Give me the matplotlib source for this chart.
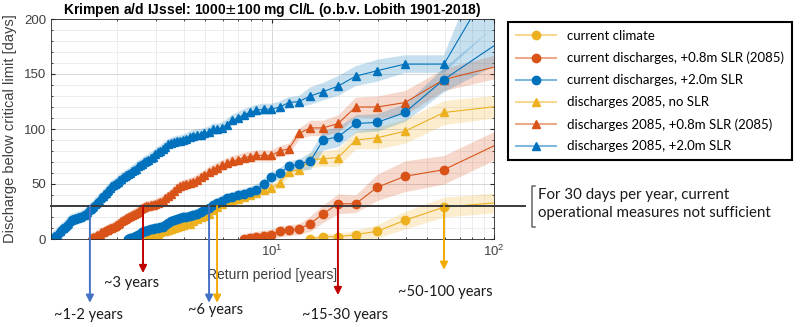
import numpy as np
import matplotlib.pyplot as plt
import matplotlib.transforms as mtransforms
from matplotlib.lines import Line2D
from matplotlib.ticker import MultipleLocator, LogLocator, NullFormatter
from matplotlib.colors import to_rgb

# Return periods: Weibull plotting position on 118 years (Lobith 1901-2018), rank 1 first
n_years = 118
return_period = (n_years + 1) / np.arange(1, n_years + 1)

# days below critical limit, ordered by rank (largest first)
cur_climate = [34, 29, 17, 7, 4, 2, 2, 0]
cur_08 = [92, 63, 57, 47, 32, 32, 23, 14, 9, 8, 7, 4, 3, 2, 1, 0]
cur_20 = [186, 145, 115, 106, 105, 93, 90, 71, 68, 66,
          60, 56, 50, 45, 43, 41, 40, 38, 37, 35,
          33, 31, 28, 26, 25, 23, 22, 21, 20, 20,
          19, 18, 17, 16, 15, 13, 11, 11, 10, 10,
          9, 9, 8, 7, 7, 6, 5, 4, 3, 2,
          1, 1, 0]
fut_00 = [122, 115, 98, 92, 90, 74, 73, 72, 63, 61,
          51, 46, 45, 42, 40, 38, 36, 35, 35, 32,
          29, 26, 23, 21, 20, 18, 16, 14, 14, 13,
          12, 11, 10, 9, 8, 7, 7, 6, 5, 4,
          3, 2, 1, 0]
fut_08 = [160, 145, 124, 120, 120, 105, 101, 101, 96, 82,
          80, 76, 76, 76, 75, 74, 72, 71, 69, 67,
          65, 63, 61, 58, 56, 54, 52, 51, 50, 49,
          48, 46, 44, 41, 39, 37, 35, 34, 33, 32,
          31, 31, 30, 30, 29, 28, 27, 25, 24, 23,
          22, 21, 20, 19, 18, 17, 16, 15, 14, 13,
          12, 11, 10, 10, 9, 8, 8, 7, 6, 6,
          5, 4, 4, 3, 2, 2, 1, 1, 0]
fut_20 = [262, 159, 159, 153, 148, 139, 134, 130, 125, 124,
          120, 118, 118, 117, 115, 113, 110, 108, 104, 101,
          100, 100, 97, 96, 95, 95, 94, 93, 91, 90,
          89, 89, 88, 87, 86, 84, 82, 80, 79, 77,
          75, 74, 72, 71, 70, 68, 67, 66, 64, 63,
          62, 60, 59, 58, 57, 56, 55, 54, 52, 51,
          50, 49, 48, 46, 45, 44, 42, 41, 39, 38,
          37, 35, 34, 33, 32, 30, 29, 28, 27, 26,
          25, 24, 23, 22, 22, 21, 20, 20, 20, 19,
          19, 19, 18, 18, 18, 17, 17, 16, 15, 14,
          13, 12, 11, 10, 10, 9, 8, 7, 7, 6,
          5, 4, 3, 3, 2, 1, 1, 0]

# half width of the 900-1100 mg Cl/L band (days)
band_cur_climate = [9, 9, 8, 6, 4, 3, 3, 2]
band_cur_08 = [13, 13, 14, 12, 8, 9, 8, 7] + [5] * 8
band_cur_20 = [20, 11, 8, 8, 8, 9, 9, 8] + [5] * 45
band_fut_00 = [10, 11, 11, 10, 8, 8, 7, 7] + [4] * 36
band_fut_08 = [11, 10, 11, 10, 9, 8, 7, 7] + [5] * 71
band_fut_20 = [55, 8, 8, 10, 9, 9, 8, 8] + [5] * 110

labels = ["current climate",
          "current discharges, +0.8m SLR (2085)",
          "current discharges, +2.0m SLR",
          "discharges 2085, no SLR",
          "discharges 2085, +0.8m SLR (2085)",
          "discharges 2085, +2.0m SLR"]

# return periods where the 30 days line is crossed
arrow_T = [1.51, 2.62, 5.2, 5.65, 19.8, 59.5]
arrow_text = ["~1-2 years", "~3 years", "", "~6 years", "~15-30 years", "~50-100 years"]

blue, red, yellow = '#0072BD', '#D95319', '#EDB120'

plt.rcParams['font.family'] = ['Liberation Sans', 'DejaVu Sans']
W, H = 800, 327
fig = plt.figure(figsize=(W / 100, H / 100), dpi=100)
ax = fig.add_axes([51 / W, 1 - 239 / H, (494 - 51) / W, (239 - 19) / H])

series = [
    (fut_00, band_fut_00, yellow, '^'),
    (fut_08, band_fut_08, red, '^'),
    (fut_20, band_fut_20, blue, '^'),
    (cur_climate, band_cur_climate, yellow, 'o'),
    (cur_08, band_cur_08, red, 'o'),
    (cur_20, band_cur_20, blue, 'o'),
]
for y, band, c, mk in series:
    y = np.array(y, float)
    b = np.array(band, float)
    x = return_period[:len(y)]
    ax.fill_between(x, y - b, y + b, color=c, alpha=0.22, lw=0)
    ax.plot(x, y, color=c, lw=0.8, marker=mk, ms=6, mfc=c, mec=c)

ax.set_xscale('log')
ax.set_xlim(1.0085, 100)
ax.set_ylim(0, 200)
ax.yaxis.set_major_locator(MultipleLocator(50))
ax.yaxis.set_minor_locator(MultipleLocator(10))
ax.xaxis.set_minor_locator(LogLocator(base=10, subs=np.arange(2, 10)))
ax.xaxis.set_minor_formatter(NullFormatter())
ax.grid(True, which='major', color='#cfcfcf', lw=0.6)
ax.grid(True, which='minor', color='#e6e6e6', lw=0.5)
ax.set_axisbelow(True)
ax.tick_params(which='both', direction='in', top=True, right=True,
               colors='#262626', labelsize=9.5, labelcolor='#404040')
ax.tick_params(which='major', length=3)
ax.tick_params(which='minor', length=1.5)
for s in ax.spines.values():
    s.set_color('#262626')
    s.set_linewidth(0.6)

ax.set_title("Krimpen a/d IJssel: 1000$\\pm$100 mg Cl/L (o.b.v. Lobith 1901-2018)",
             fontsize=10, fontweight='bold', pad=3)
ax.set_ylabel("Discharge below critical limit [days]", fontsize=10.5, color='#404040')
ax.yaxis.set_label_coords(-0.077, 0.5)
ax.set_xlabel("Return period [years]", fontsize=10, color='#404040', va='center')
ax.xaxis.set_label_coords(0.5, -0.165)

# 30 days line, running out of the axes
trans = mtransforms.blended_transform_factory(ax.transAxes, ax.transData)
ax.plot([0, 1.07], [30, 30], color='#3a3a3a', lw=1.4, transform=trans, clip_on=False, zorder=6)

# arrows down from the 30 days line
arrow_colors = ['#4472C4', '#C00000', '#4472C4', '#F2A900', '#C00000', '#F2A900']
arrow_end = [-58, -31, -58, -58, -51, -28]
for T, yend, c in zip(arrow_T, arrow_end, arrow_colors):
    ax.annotate('', xy=(T, yend), xytext=(T, 30), annotation_clip=False,
                arrowprops=dict(arrowstyle='-|>', color=c, lw=1.4,
                                mutation_scale=11, shrinkA=0, shrinkB=0), zorder=7)

txt_font = ['Lato', 'DejaVu Sans']
text_pos = [(89, 315), (132, 283), None, (216, 310), (345, 315), (445, 292)]
for t, p in zip(arrow_text, text_pos):
    if t:
        fig.text(p[0] / W, 1 - p[1] / H, t, ha='center', va='center',
                 fontsize=10.5, family=txt_font, color='#1a1a1a')

# bracket and note
fig.add_artist(Line2D([535 / W, 532 / W, 532 / W, 535 / W],
                      [1 - 186 / H, 1 - 186 / H, 1 - 227 / H, 1 - 227 / H],
                      color='#666666', lw=1.1))
fig.text(538 / W, 1 - 195 / H, "For 30 days per year, current", va='center',
         fontsize=10.8, family=txt_font, color='#1a1a1a')
fig.text(538 / W, 1 - 213 / H, "operational measures not sufficient", va='center',
         fontsize=10.8, family=txt_font, color='#1a1a1a')

# legend
def pale(c):
    r = np.array(to_rgb(c))
    return tuple(r + (1 - r) * 0.5)

order = [(yellow, 'o'), (red, 'o'), (blue, 'o'), (yellow, '^'), (red, '^'), (blue, '^')]
handles = [Line2D([], [], color=pale(c), lw=1.5, marker=m, ms=6, mfc=c, mec=c)
           for c, m in order]
leg = fig.legend(handles, labels, loc='upper left', bbox_to_anchor=(508 / W, 1 - 22 / H),
                 frameon=True, fancybox=False, edgecolor='black', framealpha=1,
                 prop={'family': txt_font, 'size': 9.5}, handlelength=3.0,
                 labelspacing=0.75, borderpad=0.6, handletextpad=0.85,
                 borderaxespad=0)
leg.get_frame().set_linewidth(1.5)

fig.savefig('out.png', dpi=100)
